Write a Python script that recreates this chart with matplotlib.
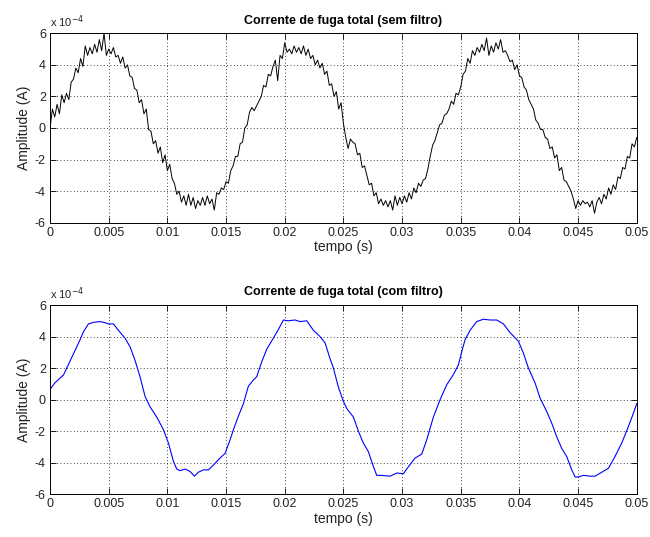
import numpy as np
import matplotlib
matplotlib.use("Agg")
import matplotlib.pyplot as plt

# ---- data (amplitudes in units of 1e-4 A) ----
t_start, t_end = 0.0, 0.05
noisy_e4 = [
    0.0, 1.2, 0.7, 1.5, 0.9,
    2.1, 1.6, 2.2, 1.8, 2.9,
    3.1, 3.8, 3.5, 4.4, 3.9,
    5.2, 4.6, 5.1, 4.7, 5.3,
    4.8, 5.6, 4.9, 6.0, 4.6,
    5.0, 4.7, 5.1, 4.5, 4.6,
    4.1, 4.5, 3.8, 4.0, 3.3,
    3.2, 2.5, 2.4, 1.6, 1.8,
    0.9, 1.2, -0.1, -0.2, -1.0,
    -0.8, -1.6, -1.2, -2.2, -1.7,
    -2.7, -2.3, -3.2, -3.5, -4.2,
    -4.0, -4.7, -4.3, -4.9, -4.2,
    -4.9, -4.4, -5.1, -4.6, -4.9,
    -4.4, -4.9, -4.3, -4.8, -4.5,
    -5.2, -4.1, -4.2, -3.8, -3.9,
    -3.4, -3.5, -2.7, -2.4, -1.8,
    -1.8, -1.0, -0.9, 0.0, 0.2,
    1.0, 1.3, 1.1, 1.4, 1.7,
    2.0, 2.7, 2.6, 3.4, 3.3,
    3.9, 4.3, 3.0, 4.6, 4.4,
    5.4, 4.8, 5.0, 4.7, 5.2,
    4.8, 5.1, 4.7, 5.2, 4.6,
    5.0, 4.4, 4.6, 4.0, 4.3,
    3.8, 4.1, 3.4, 3.6, 2.7,
    2.8, 2.0, 2.3, 1.2, 1.6,
    0.3, -0.6, -1.3, -0.7, -0.9,
    -1.0, -1.7, -1.6, -2.5, -2.4,
    -3.0, -3.6, -3.5, -4.3, -4.1,
    -4.8, -4.5, -4.9, -4.6, -5.0,
    -4.6, -5.2, -4.3, -4.9, -4.4,
    -4.8, -4.3, -4.7, -4.1, -4.5,
    -3.8, -4.1, -3.5, -3.7, -3.3,
    -3.2, -2.6, -1.8, -1.1, -0.8,
    -0.3, 0.2, 0.3, 0.8, 0.9,
    1.2, 1.7, 1.5, 2.2, 2.1,
    2.6, 3.4, 3.6, 4.4, 4.1,
    4.9, 4.6, 5.1, 4.8, 5.3,
    4.9, 5.7, 4.6, 5.2, 4.8,
    5.4, 5.0, 5.6, 4.8, 4.9,
    4.6, 4.2, 4.3, 3.7, 4.0,
    3.3, 3.2, 2.6, 2.4, 1.8,
    1.5, 1.2, 0.5, 0.3, -0.1,
    -0.1, -0.6, -0.7, -1.3, -1.2,
    -1.9, -1.7, -2.7, -2.5, -3.3,
    -3.4, -3.7, -4.0, -4.5, -5.1,
    -4.6, -4.9, -4.6, -4.8, -4.7,
    -5.0, -4.6, -5.4, -4.7, -4.4,
    -4.8, -4.2, -4.5, -3.8, -4.2,
    -3.6, -3.9, -3.1, -3.2, -2.5,
    -2.6, -1.8, -1.9, -1.0, -1.2,
    -0.6,
]

filt_t = [
    0.0, 0.00043, 0.00114, 0.00142, 0.00199, 0.00256, 0.00284, 0.00327,
    0.00369, 0.00426, 0.00469, 0.00497, 0.0054, 0.00582, 0.00639, 0.00682,
    0.00724, 0.00767, 0.0081, 0.00852, 0.00909, 0.00966, 0.01009, 0.01051,
    0.0108, 0.01108, 0.01151, 0.01193, 0.0123, 0.01264, 0.01307, 0.0135,
    0.01392, 0.01449, 0.01492, 0.01534, 0.01563, 0.01605, 0.01648, 0.0169,
    0.01733, 0.01761, 0.01804, 0.01847, 0.01903, 0.01946, 0.01989, 0.02031,
    0.02088, 0.02131, 0.02188, 0.02244, 0.02301, 0.02344, 0.02386,
    0.02415, 0.02457, 0.025, 0.02528, 0.02585, 0.02628, 0.0267,
    0.02713, 0.02756, 0.02784, 0.02827, 0.02898, 0.02955, 0.03011, 0.03054,
    0.03111, 0.03168, 0.0321, 0.03267, 0.03324, 0.03381, 0.03438, 0.0348,
    0.03509, 0.03537, 0.0358, 0.03636, 0.03693, 0.0375, 0.03807, 0.03864,
    0.0392, 0.03992, 0.04034, 0.04077, 0.04134, 0.04176, 0.04233, 0.04276,
    0.04318, 0.04361, 0.04403, 0.04446, 0.04475, 0.04503, 0.04546, 0.04602,
    0.04645, 0.04702, 0.04759, 0.04815, 0.04872, 0.04929, 0.04972, 0.05,
]
filt_e4 = [
    0.65, 1.08, 1.56, 2.0, 2.9, 3.8, 4.3, 4.8,
    4.9, 4.95, 4.88, 4.8, 4.8, 4.4, 3.9, 3.35,
    2.5, 1.45, 0.2, -0.45, -1.1, -1.9, -2.75, -3.9,
    -4.4, -4.5, -4.4, -4.55, -4.85, -4.6, -4.45, -4.45,
    -4.15, -3.7, -3.4, -2.55, -1.9, -1.05, -0.25, 0.85,
    1.25, 1.45, 2.4, 3.2, 3.9, 4.45, 5.05, 5.0,
    5.05, 4.95, 5.0, 4.4, 4.0, 3.6, 2.6,
    2.0, 0.8, -0.1, -0.55, -1.1, -2.0, -2.75,
    -3.3, -4.25, -4.8, -4.8, -4.85, -4.65, -4.7, -4.25,
    -3.7, -3.45, -2.55, -1.1, 0.0, 0.95, 1.6, 2.2,
    3.05, 3.8, 4.4, 4.95, 5.1, 5.05, 5.05, 4.8,
    4.25, 3.7, 2.95, 2.0, 1.05, 0.1, -0.75, -1.5,
    -2.35, -3.1, -3.6, -4.45, -4.9, -4.9, -4.8, -4.85,
    -4.85, -4.6, -4.35, -3.6, -2.75, -1.7, -0.85, -0.25,
]

titles = ["Corrente de fuga total (sem filtro)", "Corrente de fuga total (com filtro)"]
xticks = [0, 0.005, 0.01, 0.015, 0.02, 0.025, 0.03, 0.035, 0.04, 0.045, 0.05]
xtick_labels = ["0", "0.005", "0.01", "0.015", "0.02", "0.025", "0.03", "0.035", "0.04", "0.045", "0.05"]
yticks = [-6, -4, -2, 0, 2, 4, 6]

plt.rcParams['font.family'] = ['Liberation Sans', 'DejaVu Sans']

fig = plt.figure(figsize=(6.5, 5.37), dpi=100)
fig.patch.set_facecolor('white')
ax1 = fig.add_axes([0.077, 0.5853, 0.9026, 0.3527])
ax2 = fig.add_axes([0.077, 0.0795, 0.9026, 0.3525])

noisy_t = np.linspace(t_start, t_end, len(noisy_e4))
ax1.plot(noisy_t, noisy_e4, color='black', linewidth=0.7)
ax2.plot(filt_t, filt_e4, color='#0000ff', linewidth=0.8)

for ax, title in zip([ax1, ax2], titles):
    ax.set_xlim(0, 0.05)
    ax.set_ylim(-6, 6)
    ax.set_xticks(xticks)
    ax.set_xticklabels(xtick_labels)
    ax.set_yticks(yticks)
    ax.set_yticklabels([str(v) for v in yticks])
    ax.tick_params(direction='in', top=True, right=True, length=4, width=0.6,
                   labelsize=9, pad=3, labelcolor='#222222')
    ax.grid(True, linestyle=(0, (1, 3)), color='black', linewidth=0.6)
    for s in ax.spines.values():
        s.set_linewidth(0.7)
    ax.set_title(title, fontsize=9, fontweight='bold', pad=7)
    ax.set_xlabel('tempo (s)', fontsize=10, labelpad=1, color='#222222')
    ax.set_ylabel('Amplitude (A)', fontsize=10, labelpad=3, color='#222222')
    ax.text(0.0, 1.015, r'x 10$^{-4}$', transform=ax.transAxes, fontsize=8,
            ha='left', va='bottom', color='#222222')

fig.savefig('out.png', dpi=100, facecolor='white')
